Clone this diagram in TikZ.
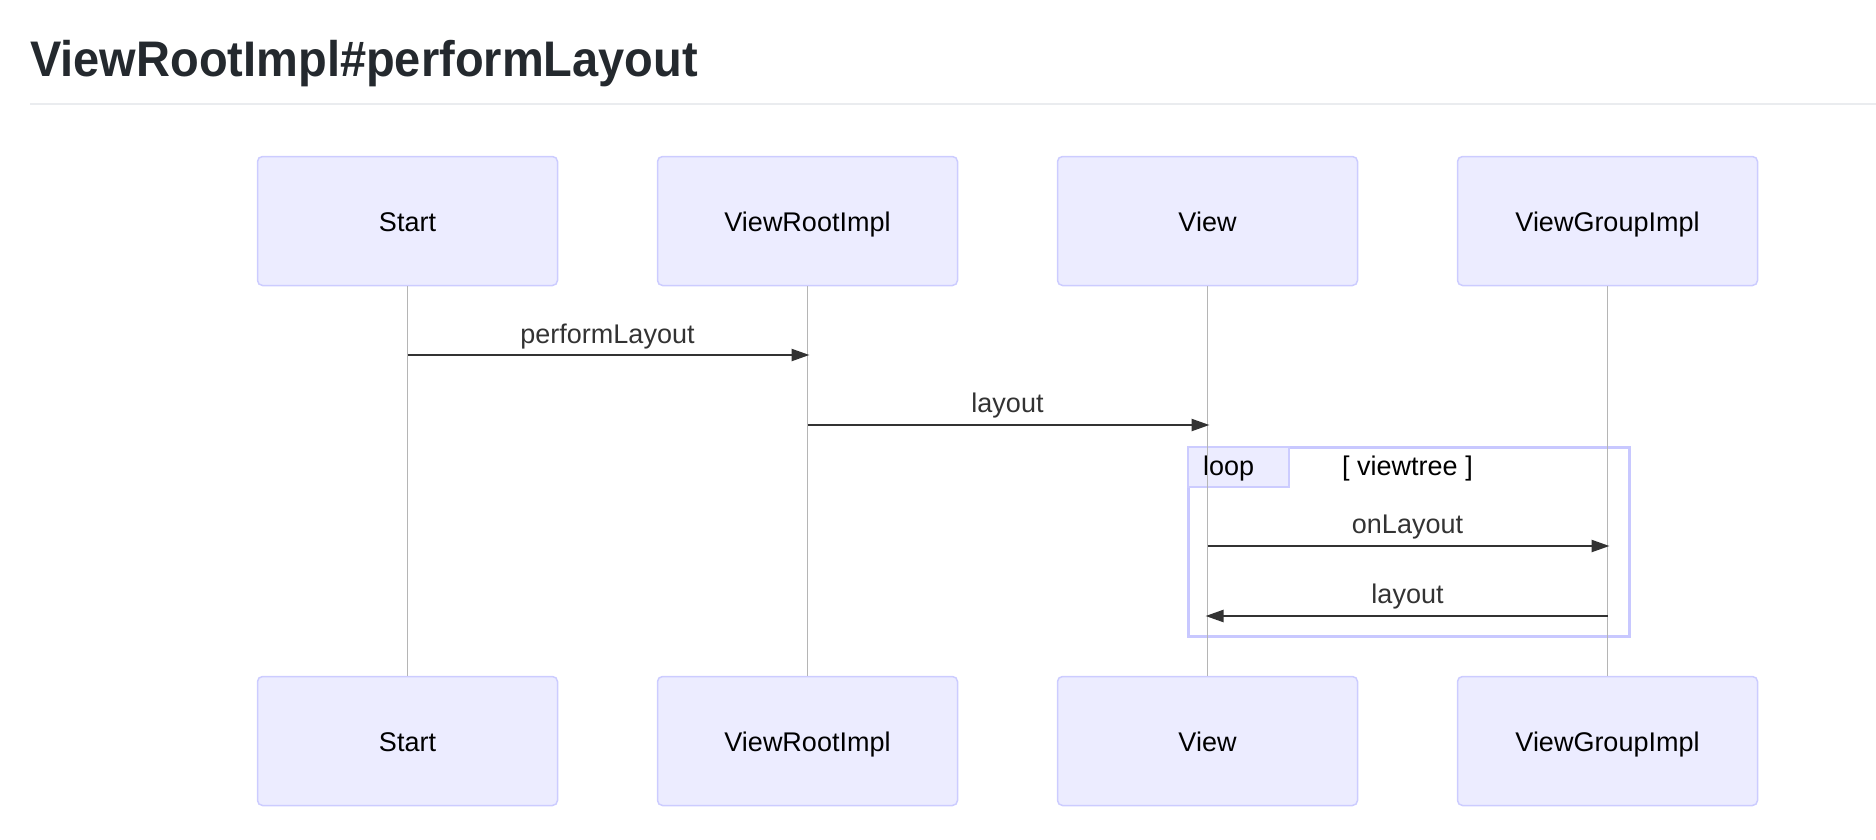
\documentclass[tikz,border=0pt]{standalone}
\usepackage{fontspec}
\setmainfont{Liberation Sans}
\usetikzlibrary{arrows.meta}
\definecolor{actfill}{HTML}{ECECFF}
\definecolor{actline}{HTML}{CCCCFF}
\definecolor{loopline}{HTML}{C8C8FF}
\definecolor{lifecol}{HTML}{B5B5B5}
\definecolor{msgcol}{HTML}{333333}
\definecolor{titlecol}{HTML}{24292E}
\definecolor{rulecol}{HTML}{EAECEF}
\begin{document}
\begin{tikzpicture}[x=1pt,y=-1pt,
 actor/.style={draw=actline, fill=actfill, line width=1.5pt, rounded corners=5pt, minimum width=300pt, minimum height=129pt, inner sep=0pt, text height=20pt, text depth=0pt, font=\fontsize{27}{32}\selectfont, text=black},
 life/.style={draw=lifecol, line width=1.5pt},
 msg/.style={draw=msgcol, line width=2.4pt, -{Triangle[length=18pt,width=12pt]}},
 lbl/.style={font=\fontsize{27}{32}\selectfont, text=msgcol, inner sep=0pt},
]
\useasboundingbox (0,0) rectangle (1876,840);
\node[anchor=base west, inner sep=0pt, text=titlecol, font=\bfseries\fontsize{50}{60}\selectfont] (title) at (30,77) {\scalebox{0.94}[1]{ViewRootImpl\#performLayout}};
\draw[rulecol, line width=2pt] (30,104) -- (1876,104);

% loop frame
\node[draw=loopline, line width=3pt, minimum width=441pt, minimum height=189pt, inner sep=0pt, anchor=north west] (loop) at (1187,446) {};
\node[draw=actline, fill=actfill, line width=1.5pt, minimum width=101pt, minimum height=40pt, inner sep=0pt, anchor=north west] (looptag) at (1187,446) {};
\node[lbl, text=black, anchor=west] (looptxt) at (1203,469) {loop};
\node[lbl, text=black] (cond) at (1407.5,469) {[ viewtree ]};

% actors
\node[actor] (s1) at (407.5,221) {Start};
\node[actor] (v1) at (807.5,221) {ViewRootImpl};
\node[actor] (w1) at (1207.5,221) {View};
\node[actor] (g1) at (1607.5,221) {ViewGroupImpl};
\node[actor] (s2) at (407.5,741) {Start};
\node[actor] (v2) at (807.5,741) {ViewRootImpl};
\node[actor] (w2) at (1207.5,741) {View};
\node[actor] (g2) at (1607.5,741) {ViewGroupImpl};

% lifelines
\draw[life] (s1.south) -- (s2.north);
\draw[life] (v1.south) -- (v2.north);
\draw[life] (w1.south) -- (w2.north);
\draw[life] (g1.south) -- (g2.north);

% messages
\draw[msg] (s1.south |- 0,355) -- ([xshift=2pt]v1.south |- 0,355);
\node[lbl] (l1) at (607.5,337) {performLayout};
\draw[msg] (v1.south |- 0,425) -- ([xshift=2pt]w1.south |- 0,425);
\node[lbl] (l2) at (1007.5,406) {layout};
\draw[msg] (w1.south |- 0,546) -- ([xshift=2pt]g1.south |- 0,546);
\node[lbl] (l3) at (1407.5,527) {onLayout};
\draw[msg] (g1.south |- 0,616) -- ([xshift=-2pt]w1.south |- 0,616);
\node[lbl] (l4) at (1407.5,597) {layout};
\end{tikzpicture}
\end{document}
